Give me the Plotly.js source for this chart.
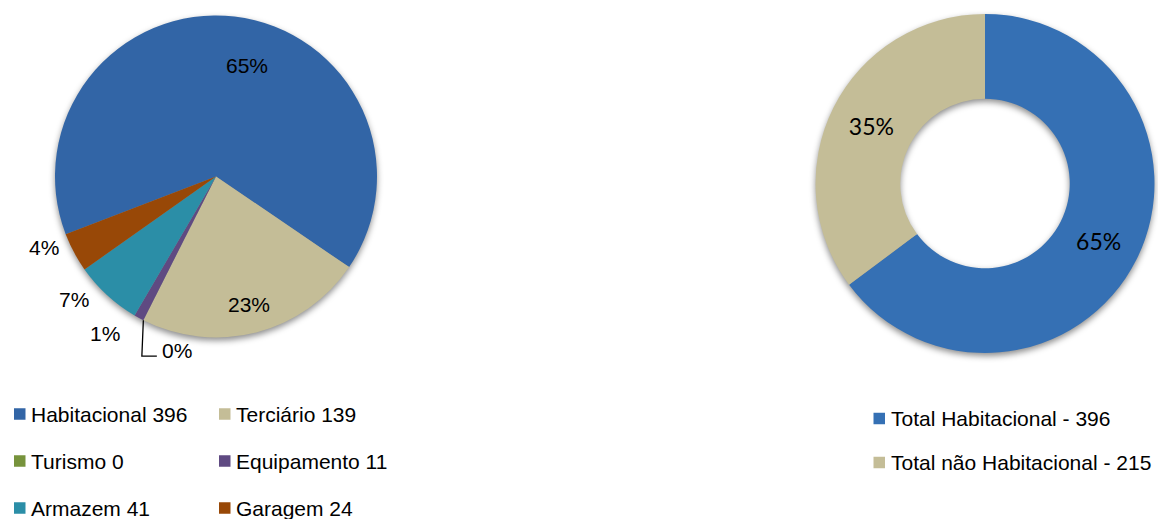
<!DOCTYPE html>
<html><head><meta charset="utf-8">
<script src="https://cdn.plot.ly/plotly-3.0.1.min.js"></script>
<style>html,body{margin:0;padding:0;background:#fff}#chart{width:1158px;height:519px}</style>
</head><body><div id="chart"></div>
<script>
// ---- data ----
const detailLegend = ['Habitacional 396', 'Terciário 139', 'Turismo 0', 'Equipamento 11', 'Armazem 41', 'Garagem 24'];
const detailValues = [396, 139, 0, 6, 41, 24];
const totalLegend = ['Total Habitacional - 396', 'Total não Habitacional - 215'];
const totalValues = [396, 215];

// ---- styles ----
const W = 1158, H = 519;
const detailColors = ['#3265a6', '#c4bd97', '#77933c', '#5f4a82', '#2b8ea7', '#984807'];
const totalColors = ['#3570b4', '#c4bd97'];
const pieBox = {x0: 55, x1: 377, y0: 15, y1: 338};
const donutBox = {x0: 815, x1: 1155, y0: 14, y1: 353};
const pieRotation = 249;
const donutHole = 0.5;
const labelStyle = [{dt: 9, k: 0.716}, {dt: 0, k: 0.82}, {leader: true}, {dt: 6.7, k: 1.194}, {dt: 6.5, k: 1.167}, {dt: 5.7, k: 1.155}];
const arial = 'Liberation Sans, Arial, sans-serif';

const px = x => x / W, py = y => 1 - y / H;
function dom(b) { return {x: [px(b.x0), px(b.x1)], y: [py(b.y1), py(b.y0)]}; }
function polar(b, deg, k) {
  const cx = (b.x0 + b.x1) / 2, cy = (b.y0 + b.y1) / 2;
  const r = Math.min(b.x1 - b.x0, b.y1 - b.y0) / 2;
  const t = deg * Math.PI / 180;
  return [cx + k * r * Math.sin(t), cy - k * r * Math.cos(t)];
}

const traces = [
  {type: 'pie', values: detailValues, labels: detailLegend, sort: false, direction: 'clockwise',
   rotation: pieRotation - 360, marker: {colors: detailColors, line: {width: 0}}, textinfo: 'none',
   hoverinfo: 'skip', domain: dom(pieBox)},
  {type: 'pie', values: totalValues, labels: totalLegend, sort: false, direction: 'clockwise',
   rotation: 0, hole: donutHole, marker: {colors: totalColors, line: {width: 0}},
   texttemplate: '%{percent:.0%}', textposition: 'inside', insidetextorientation: 'horizontal',
   textfont: {family: 'Lato, sans-serif', size: 23, color: '#000'},
   hoverinfo: 'skip', domain: dom(donutBox)}
];

const annotations = [], shapes = [], images = [];
const total = detailValues.reduce((a, b) => a + b, 0);
let acc = pieRotation;
detailValues.forEach((v, i) => {
  const span = v / total * 360;
  const mid = acc + span / 2;
  const txt = Math.round(v / total * 100) + '%';
  const st = labelStyle[i];
  if (st.leader) {
    const [x0, y0] = polar(pieBox, mid, 1);
    const x1 = x0 - 1.5, y1 = y0 + 36, x2 = x1 + 15;
    shapes.push({type: 'path', xref: 'paper', yref: 'paper',
      path: `M ${px(x0)} ${py(y0)} L ${px(x1)} ${py(y1)} L ${px(x2)} ${py(y1)}`,
      line: {color: '#000', width: 1.3}});
    annotations.push({xref: 'paper', yref: 'paper', x: px(x2 + 3), y: py(y1 - 6), xanchor: 'left', yanchor: 'middle',
      text: txt, showarrow: false, font: {family: arial, size: 21, color: '#000'}});
  } else {
    const [x, y] = polar(pieBox, mid + st.dt, st.k);
    annotations.push({xref: 'paper', yref: 'paper', x: px(x), y: py(y), xanchor: 'center', yanchor: 'middle',
      text: txt, showarrow: false, font: {family: arial, size: 21, color: '#000'}});
  }
  acc += span;
});

// soft shadows behind the pies (Excel-like)
function shadow(b, hole) {
  const pad = 20, w = b.x1 - b.x0 + 2 * pad, h = b.y1 - b.y0 + 2 * pad;
  const r = Math.min(b.x1 - b.x0, b.y1 - b.y0) / 2, cx = w / 2, cy = h / 2 + 3;
  const shape = hole
    ? `<circle cx="${cx}" cy="${cy}" r="${r * (1 + hole) / 2}" fill="none" stroke="rgba(0,0,0,0.45)" stroke-width="${r * (1 - hole)}" filter="url(#f)"/>`
    : `<circle cx="${cx}" cy="${cy}" r="${r}" fill="rgba(0,0,0,0.45)" filter="url(#f)"/>`;
  const svg = `<svg xmlns="http://www.w3.org/2000/svg" width="${w}" height="${h}" viewBox="0 0 ${w} ${h}"><defs><filter id="f" x="-20%" y="-20%" width="140%" height="140%"><feGaussianBlur stdDeviation="3"/></filter></defs>${shape}</svg>`;
  images.push({source: 'data:image/svg+xml;charset=utf-8,' + encodeURIComponent(svg), xref: 'paper', yref: 'paper',
    x: px(b.x0 - pad), y: py(b.y0 - pad), sizex: w / W, sizey: h / H, xanchor: 'left', yanchor: 'top',
    sizing: 'stretch', layer: 'below'});
}
shadow(pieBox, 0);
shadow(donutBox, donutHole);

// legends
const sq = 11.5;
function legendItem(x, y, color, text) {
  shapes.push({type: 'rect', xref: 'paper', yref: 'paper', x0: px(x), x1: px(x + sq), y0: py(y + sq / 2), y1: py(y - sq / 2),
    fillcolor: color, line: {width: 0}});
  annotations.push({xref: 'paper', yref: 'paper', x: px(x + sq + 3.5), y: py(y), xanchor: 'left', yanchor: 'middle',
    text: text, showarrow: false, font: {family: arial, size: 21, color: '#000'}});
}
const legCols = [14, 219], legRows = [414, 461, 508];
detailLegend.forEach((t, i) => legendItem(legCols[i % 2], legRows[Math.floor(i / 2)], detailColors[i], t));
const totRows = [418.5, 462.5];
totalLegend.forEach((t, i) => legendItem(873.5, totRows[i], totalColors[i], t));

Plotly.newPlot('chart', traces, {
  width: W, height: H, margin: {l: 0, r: 0, t: 0, b: 0}, showlegend: false,
  paper_bgcolor: '#fff', plot_bgcolor: '#fff', annotations, shapes, images
}, {displayModeBar: false, staticPlot: true});
</script></body></html>
